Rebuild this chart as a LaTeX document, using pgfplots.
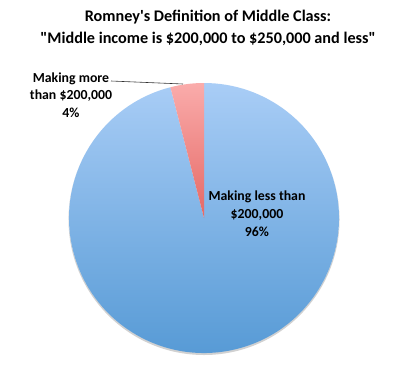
\documentclass[border=0pt]{standalone}
\usepackage{pgfplots}
\usepackage{pgfplotstable}
\pgfplotsset{compat=1.18}
\usepackage{fontspec}
\setmainfont{Carlito}[Ligatures=TeXOff]
\definecolor{bluetop}{HTML}{A9CDF6}
\definecolor{bluebot}{HTML}{5398D4}
\definecolor{redtop}{HTML}{FAACAB}
\definecolor{redbot}{HTML}{E56865}
\pgfplotstableread{
label share
more 4
less 96
}\piedata
\begin{document}
\begin{tikzpicture}
\pgfplotstablegetelem{0}{share}\of\piedata
\let\moreshare\pgfplotsretval
\pgfplotstablegetelem{1}{share}\of\piedata
\let\lessshare\pgfplotsretval
\pgfmathsetmacro{\aA}{90}
\pgfmathsetmacro{\aB}{90+3.6*\moreshare}
\pgfmathsetmacro{\aC}{\aB+3.6*\lessshare}
\begin{axis}[
  x=1pt, y=1pt,
  xmin=0, xmax=403, ymin=0, ymax=373,
  hide axis,
  clip=false,
]
\path (rel axis cs:0,0) rectangle (rel axis cs:1,1);
% soft shadow
\fill[black!18] (axis cs:204,153.5) circle[radius=135.5];
\fill[white] (axis cs:204,155.5) circle[radius=135];
% blue wedge (less than 200,000)
\shade[top color=bluetop, bottom color=bluebot]
  (axis cs:204,155) -- ++(\aB:135pt) arc[start angle=\aB, end angle=\aC, radius=135pt] -- cycle;
% red wedge (more than 200,000)
\shade[top color=redtop, bottom color=redbot]
  (axis cs:204,155) -- ++(\aA:135pt) arc[start angle=\aA, end angle=\aB, radius=135pt] -- cycle;
% leader line
\draw[black!80, line width=0.6pt] (axis cs:111,292) -- (axis cs:183,289);
% labels
\node[font=\bfseries\fontsize{13.8}{17.5}\selectfont, align=center] at (axis cs:71,278)
  {Making more\\than \$200,000\\4\%};
\node[font=\bfseries\fontsize{13.8}{18}\selectfont, align=center] at (axis cs:257,159)
  {Making less than\\\$200,000\\96\%};
% title
\node[font=\bfseries\fontsize{16.2}{21.5}\selectfont, align=center] at (axis cs:208,345)
  {Romney's Definition of Middle Class:\\"Middle income is \$200,000 to \$250,000 and less"};
\end{axis}
\end{tikzpicture}
\end{document}
